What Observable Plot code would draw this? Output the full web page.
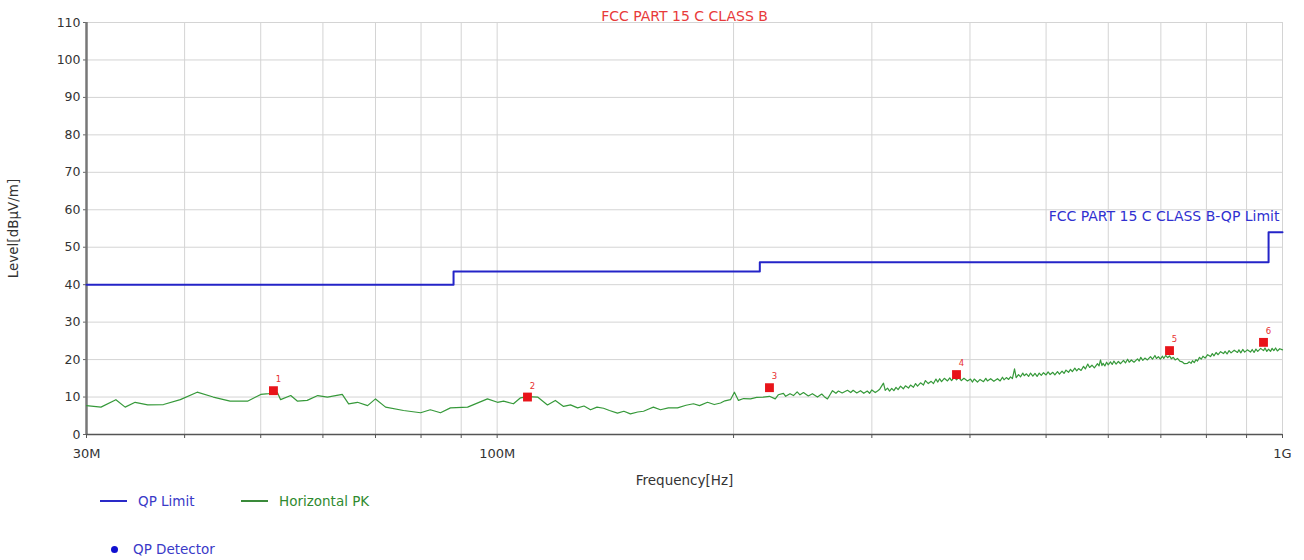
<!DOCTYPE html>
<html>
<head>
<meta charset="utf-8">
<script src="https://cdn.jsdelivr.net/npm/d3@7"></script>
<script src="https://cdn.jsdelivr.net/npm/@observablehq/plot@0.6"></script>
<style>
  html, body { margin: 0; padding: 0; background: #fff; }
  body { width: 1304px; height: 560px; overflow: hidden; font-family: "DejaVu Sans", Verdana, sans-serif; }
  #legend { position: relative; height: 68px; font-size: 13.5px; }
  .item { position: absolute; display: flex; align-items: center; }
  .swatch { display: inline-block; width: 27px; height: 0; border-top: 2px solid; margin-right: 11px; }
  .dot { display: inline-block; width: 7px; height: 7px; border-radius: 50%; background: #1010d0; margin-right: 15px; }
</style>
</head>
<body>
<div id="chart"></div>
<div id="legend">
  <div class="item" style="left:100px; top:1px; color:#3a3ac8;"><span class="swatch" style="border-color:#2a2ac8"></span>QP Limit</div>
  <div class="item" style="left:241px; top:1px; color:#2f8a2f;"><span class="swatch" style="border-color:#3a8a3a"></span>Horizontal PK</div>
  <div class="item" style="left:111px; top:49px; color:#3a3ac8;"><span class="dot"></span>QP Detector</div>
</div>
<script>
// ---- Data ----
const title = "FCC PART 15 C CLASS B";
const xLabel = "Frequency[Hz]";
const yLabel = "Level[dBμV/m]";

// QP limit (step-after), MHz / dBμV/m
const limitFreq = [30, 88, 216, 960, 1000];
const limitLevel = [40, 43.5, 46, 54, 54];
const limitText = ["FCC PART 15 C CLASS B-QP Limit"];
const limitTextFreq = [1000];
const limitTextLevel = [58.3];

// Horizontal PK trace: [frequency MHz, level dBμV/m]
const pkTrace = [
  [30.0, 7.7], [31.3, 7.3], [32.7, 9.3], [33.6, 7.3], [34.6, 8.6], [35.9, 7.9], [37.6, 8.0],
  [39.5, 9.3], [41.5, 11.3], [43.5, 10.0], [45.7, 8.9], [48.1, 8.9], [50.0, 10.7], [51.2, 10.9],
  [52.5, 11.2], [53.0, 9.3], [54.6, 10.4], [55.7, 8.9], [57.3, 9.1], [59.1, 10.4], [60.8, 10.0],
  [63.5, 10.7], [64.7, 8.2], [66.4, 8.6], [68.4, 7.7], [70.0, 9.5], [72.1, 7.3], [76.0, 6.4],
  [79.9, 5.8], [82.2, 6.6], [84.7, 5.8], [87.2, 7.1], [91.7, 7.3], [97.2, 9.5], [100.1, 8.6],
  [101.9, 8.9], [104.9, 8.2], [107.1, 9.8], [109.3, 10.1], [112.6, 10.0], [115.9, 7.9],
  [118.6, 9.1], [121.5, 7.5], [124, 7.9], [126.6, 7.1], [129, 7.6], [131.5, 6.6], [134, 7.3],
  [136.6, 7.0], [139, 6.4], [142.3, 5.7], [145, 6.2], [147.8, 5.5], [151, 6.0], [153.6, 6.2],
  [156, 6.8], [158.1, 7.3], [161.4, 6.6], [165.2, 7.1], [169.7, 7.1], [174, 7.8], [177.8, 8.2],
  [181, 7.7], [185.3, 8.6], [189, 8.0], [192.5, 8.4], [195, 9.0], [198.2, 9.3], [200.5, 11.3],
  [202.9, 9.1], [206, 9.6], [210.2, 9.5], [214, 9.9], [218.3, 10.0], [222.2, 10.2],
  [226, 9.5], [228, 10.6], [231.5, 11.0], [233, 10.2], [236, 10.9], [238.4, 10.4], [241, 11.4],
  [243, 10.6], [245.5, 11.2], [249, 10.3], [252, 10.9], [255.8, 10.0], [259, 10.8], [261, 10.1],
  [263.4, 9.5], [265, 10.4], [267.3, 11.7], [270, 11.0], [272, 11.6], [275, 11.1], [279.3, 11.8],
  [282, 11.2], [284, 11.8], [287, 11.1], [290.2, 11.7], [293, 11.0], [296, 11.6], [298, 11.0],
  [300, 11.9], [303, 11.2], [305, 11.6], [307, 12.1], [310.4, 13.7], [312, 11.8], [314.1, 12.4],
  [316, 11.6], [318, 12.3], [320, 11.7], [322, 12.6], [324, 12.0], [326.3, 12.9], [329, 12.2],
  [331, 13.0], [334, 12.4], [336, 13.2], [338.9, 12.6], [341, 13.6], [343, 12.9], [346, 13.8],
  [349, 13.2], [351, 14.4], [354, 13.6], [357, 14.2], [359.4, 13.6], [362, 14.8], [364, 14.0],
  [366, 14.9], [368, 14.1], [371, 15.0], [374.5, 14.3], [377, 15.1], [379, 14.4], [382, 15.3],
  [384.5, 14.6], [387, 15.2], [390, 14.4], [393, 15.0], [397.1, 14.3], [400.6, 14.8], [403, 14.0],
  [405, 14.8], [408.9, 14.0], [412, 14.7], [416.2, 14.1], [419, 15.0], [421, 14.3], [425, 14.9],
  [429, 14.2], [433.6, 14.9], [437, 14.3], [440, 15.3], [442, 14.6], [445, 15.2], [448, 14.7],
  [450.5, 15.4], [453, 14.9], [455.8, 17.5], [458, 15.2], [461.2, 16.0], [464, 15.4], [467, 16.4],
  [469, 15.7], [472, 16.2], [475, 15.5], [477.7, 16.4], [481, 15.6], [484, 16.3], [487, 15.5],
  [490, 16.4], [493, 15.8], [496.2, 16.5], [500, 15.9], [503, 16.7], [506, 16.0], [510, 16.6],
  [513, 15.9], [517, 16.8], [520, 16.1], [524, 16.9], [527, 16.3], [530, 17.2], [534, 16.6],
  [537.1, 17.4], [540, 16.8], [544, 17.7], [547, 17.0], [550, 17.6], [554, 17.1], [558, 18.2],
  [561, 17.5], [565, 18.8], [568, 17.9], [572, 18.5], [576, 17.8], [581.3, 18.9], [584, 18.3],
  [586.5, 19.9], [589, 18.4], [591, 19.0], [594, 18.3], [597, 19.3], [600, 18.6], [603.9, 19.4],
  [607, 18.7], [610, 19.6], [614, 18.8], [618, 19.5], [622, 18.9], [627.4, 19.8], [631, 19.1],
  [635, 20.1], [638, 19.3], [642, 19.9], [647, 19.3], [653.7, 20.2], [657, 19.6], [660, 20.6],
  [664, 19.8], [668, 20.4], [673, 19.9], [679.1, 20.8], [683, 20.1], [688, 21.1], [691, 20.3],
  [695, 20.8], [699, 20.1], [703.4, 20.9], [706, 20.3], [710, 21.1], [714, 20.5], [718, 21.0],
  [722, 20.2], [726, 20.6], [730, 19.9], [735, 20.3], [740, 19.6], [745, 19.4], [750, 18.9],
  [756.9, 19.0], [761, 19.4], [765, 19.0], [768, 19.7], [772, 19.2], [776, 20.0], [779.4, 19.6],
  [784, 20.6], [788, 20.1], [792, 20.9], [797, 20.4], [803, 21.3], [809.7, 20.8], [814, 21.6],
  [818, 21.0], [823, 21.9], [828, 21.3], [834, 22.1], [841.1, 21.6], [845, 22.2], [850, 21.5],
  [855, 22.4], [860, 21.8], [868, 22.5], [876.4, 21.9], [880, 22.6], [885, 21.8], [890, 22.7],
  [895, 22.0], [902, 22.6], [910.4, 22.0], [915, 22.7], [920, 21.9], [925, 22.8], [930, 22.2],
  [938, 23.0], [945.8, 22.4], [950, 23.1], [955, 22.2], [960, 22.8], [965.4, 22.2], [970, 23.0],
  [975, 22.4], [980, 23.1], [985, 22.3], [992, 22.9], [1000, 22.6]
];

// Peak markers
const markFreq = [51.9, 109.3, 222.2, 384.5, 718.0, 945.8];
const markLevel = [11.7, 10.0, 12.5, 16.0, 22.4, 24.6];
const markLabel = ["1", "2", "3", "4", "5", "6"];

// Axis ticks
const gridFreq = [30, 40, 50, 60, 70, 80, 90, 100, 200, 300, 400, 500, 600, 700, 800, 900, 1000];
const labelFreq = [30, 100, 1000];
const labelText = ["30M", "100M", "1G"];
const yTicks = [0, 10, 20, 30, 40, 50, 60, 70, 80, 90, 100, 110];

// ---- Build ----
const pk = pkTrace.map(([f, v]) => ({f, v}));
const lim = limitFreq.map((f, i) => ({f, v: limitLevel[i]}));
const marks = markFreq.map((f, i) => ({f, v: markLevel[i], t: markLabel[i]}));
const limLab = limitText.map((t, i) => ({f: limitTextFreq[i], v: limitTextLevel[i], t}));

const chart = Plot.plot({
  width: 1304,
  height: 492,
  marginTop: 22,
  marginBottom: 58,
  marginLeft: 86,
  marginRight: 22,
  style: {fontFamily: "DejaVu Sans, Verdana, sans-serif", fontSize: "12px", background: "#fff"},
  x: {type: "log", domain: [30, 1000]},
  y: {domain: [0, 110]},
  marks: [
    Plot.gridX(gridFreq, {stroke: "#d4d4d4", strokeOpacity: 1, strokeWidth: 1}),
    Plot.gridY(yTicks, {stroke: "#d4d4d4", strokeOpacity: 1, strokeWidth: 1}),
    Plot.axisY(yTicks, {tickSize: 3, tickPadding: 3, fill: "#333", stroke: "#666", fontSize: 12.5, label: null}),
    Plot.axisX(gridFreq, {tickSize: 4, stroke: "#555", tickFormat: () => "", label: null}),
    Plot.axisX(labelFreq, {tickSize: 0, tickPadding: 14, fill: "#333", fontSize: 13,
      tickFormat: d => labelText[labelFreq.indexOf(d)], label: null}),
    Plot.ruleX([30], {stroke: "#777", strokeWidth: 2.5}),
    Plot.ruleY([0], {stroke: "#555", strokeWidth: 1.5}),
    Plot.line(lim, {x: "f", y: "v", curve: "step-after", stroke: "#2424c8", strokeWidth: 2}),
    Plot.line(pk, {x: "f", y: "v", stroke: "#36993a", strokeWidth: 1.2}),
    Plot.dot(marks, {x: "f", y: "v", symbol: "square", r: 5, fill: "#e8141a", stroke: "none"}),
    Plot.text(marks, {x: "f", y: "v", text: "t", dx: 5, dy: -11, fill: "#e83030", fontSize: 8.5}),
    Plot.text(limLab, {x: "f", y: "v", text: "t", textAnchor: "end", dx: -3, fill: "#3030d0", fontSize: 14}),
    Plot.text([title], {frameAnchor: "top", dy: -11, fill: "#e83a3a", fontSize: 14}),
    Plot.text([yLabel], {frameAnchor: "left", textAnchor: "middle", dx: -73, rotate: -90, fill: "#333", fontSize: 13.5}),
    Plot.text([xLabel], {frameAnchor: "bottom", dy: 50, fill: "#333", fontSize: 13.5})
  ]
});
document.getElementById("chart").appendChild(chart);
</script>
</body>
</html>
